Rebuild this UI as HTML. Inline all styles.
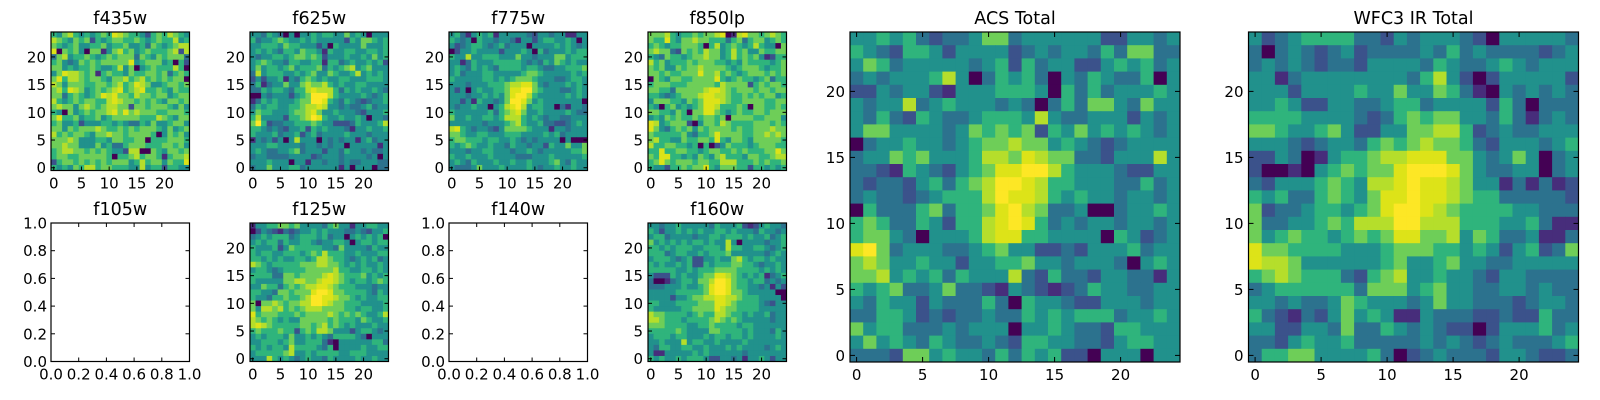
<!DOCTYPE html>
<html><head><meta charset="utf-8"><style>
html,body{margin:0;padding:0;background:#fff;}
svg{display:block;font-family:"DejaVu Sans","Liberation Sans",sans-serif;}
</style></head><body>
<svg id="fig" width="1600" height="400" viewBox="0 0 1600 400"></svg>
<script>
const f435w=["5467545456587655425657654","7654656254566556545655745","6545644556455644536545677","8065640661467564565556727","3674556545656663654656663","5643465656666684566645052","6645455654457460456555750","4687765615655465566563565","6857765665466756756565660","7646665566567568764456656","6758764565678567855654655","6635654568786657665664566","7545656655787665656546656","6766467656776626656665464","5406456566786867666556665","6855645564566666555765466","5644524445545433546445664","6646566676556565666546456","7565665466766566665046564","6667644455466556605556665","6676644464533566655566564","5677665656544277006546656","5665566666505567566515667","2566565656566645756646558","5454657756655544745525544"];
const f625w=["4435430404454554464540444","5344565445454444425466545","4455546554442405444464445","4545435546554154455445545","4344554566565244454454645","4565443554455155345445452","4645545645556354567456444","3745554454564465445745454","2424451435654544554445554","3513446446766754544554444","3354554355787775354544543","0043444245699975444454345","1354544456699854354323445","3545544556778744343345344","4655444566786445444324445","5744442556798544544540443","6952334455565442223544457","5543432445254544431445445","5444534452453444454443444","1434240474440434344145344","4445544443443434404444414","4543344563444244354434334","3443333444423444344443404","4445444044144344343344433","3446444553444444140444033"];
const f775w=["4531454514444432443441144","5434054434431442455445404","4234554345344404444545434","0244544442444540534445455","5447445554446443444664555","4413544455555434354654544","4543545435555455433445556","4534445544444566544444545","5444445545456665444334554","4443444555677886434445454","4240454455688996544433454","4443445454689975444445454","4424154434699864544444440","4344544045789745544031443","5444444535678644544445433","6445445545777545434433444","4444443444567544533223454","7854344324666654441443444","6654455444555444454534444","5665554554454343444404000","5456544544354434425446446","4443445544434454344444556","5445444544443334445444445","4543544454454454445643544","4333464445444454344544544"];
const f850lp=["6667545565667801786656765","6558546676655535635664565","5654556665057456545754406","6766326565766457564465566","5436554566766457565641255","7564555656665545465555456","6564465667666654566654556","6656556668667565456665656","0654665566668545655456355","5666555666665766662565665","6655366666788765666566566","5543456667887765565656645","4666554656888765566665566","5405645456887555650665565","6655465066886545655665666","4546565565665606666556664","8745666204665765555666565","8643565646566665655666766","6555556435568666655667676","6755446556658546654666665","7556655450502465554566655","5585566554566556565556686","6588554546546755546655677","5686566656655777555656556","5442556566854666552554545"];
const f125w=["1445566564444356441445544","0243213234454544433432445","3454555345554534404545450","4545535445543445540455455","5444524655555443644443544","5455445554565755544544455","5545454455457765543454534","7654555556667766545454454","4554345555666667554455454","5555336656666787655564545","5444446677667887654554565","4465535656778876555444344","5544366566689986655554354","5443556556799887665454455","6066765667799876655544445","6477675656777666655455445","8566655565666676565654457","7656545446666656555465445","7876555556656756545444544","5655565525657764442455434","4545554644545435555430444","4455545644555310444444553","5454554755554350444454455","4555556744545555445554444","4447545434544354444544544"];
const f160w=["4434454444435444521245443","5424454545445545444354434","4553444434455455545445345","6454545455454474044443445","5545455544555475544554345","5553455445455564444443454","4555434522445446754554544","5454454522545556655434454","5555544545556666555545454","4222545445668876545451345","3001345546679986554553434","3334445445689986554434142","4444455555689986654444400","4444244566778877655544440","5544455556668876555543244","5444445566668766555544444","7665555456557765545445344","7765554555567656544444344","6665555445565555455444444","5555565444466555545444354","4555455444545545545444454","4454447455445444454444444","4355445544544454544443454","4114444454544444434444444","5454454555422443414454244"];
const acs=["4454532334663444444224434","5432554244442343443536633","4653444443452534422454534","3434445740354530435433504","2243442144455540535344454","4344734544434303536643644","4353254334555474334442434","4664444346565625464545434","0344544345667664543234444","3446564445776876633244474","3321543245688997544432244","3233245356799875544433534","3433234555798875454434434","0533356355689763340034454","5653354255789853434434434","5664304445788554444054234","8963444334564422324445344","6764454424455644344430454","6674545354447325332443314","5456334633214321235443344","4354424333530544322444344","3355423233433545455534454","6455333434440445433255444","4645435433432554433245544","3332664544353545220444044"];
const wfc3=["4234555533243444320444443","3034323423333435343333234","3434323324444354334543444","4413444444443574202444442","4442444454464465310434343","4454224433455344442530333","5555444432356566443531343","6654456422446677523433444","4443234435656766532444345","2243014556778886643464034","2001045656689998643344034","3244456547789887644131312","5453356546889887655333332","6233455456899876555544333","6334456577799777555445311","6456554565688667465334113","8665555444566655454245236","8776444444564456443344444","5676555325674454432443333","3455555536664564433443433","4434334654443464433323443","5321324645411433322322533","4422443633543432202444534","3324544533333434323433345","3556644445302343332443223"];
const panelNames=["f435w","f625w","f775w","f850lp","f125w","f160w","ACS Total","WFC3 IR Total"];
const tickVals=[0,5,10,15,20];
const unitTicks=[0,0.2,0.4,0.6,0.8,1.0];
const unitLabels=["0.0","0.2","0.4","0.6","0.8","1.0"];
const viridis=["#440154","#472d7b","#3b528b","#2c728e","#21918c","#2fb47c","#6ece58","#b5de2b","#dde318","#fde725"];
const svg=document.getElementById('fig');
const NS="http://www.w3.org/2000/svg";
function mk(tag,attrs,parent){const e=document.createElementNS(NS,tag);for(const k in attrs)e.setAttribute(k,attrs[k]);(parent||svg).appendChild(e);return e;}
function txt(x,y,s,size,anchor,parent){const t=mk('text',{x:x,y:y,'font-size':size,'text-anchor':anchor,fill:'#000'},parent);t.textContent=s;return t;}
function slug(s){return s.toLowerCase().replace(/[^a-z0-9]+/g,'-');}
const TF=15, TT=17.5;
function imagePanel(name,grid,L,T,S,tick){
  const g=mk('g',{});
  
  
  const n=grid.length, cs=S/n;
  const xs=v=>L+(v+0.5)*cs, ys=v=>T+S-(v+0.5)*cs;
  for(let r=0;r<n;r++){const row=grid[r];const yv=n-1-r;
    for(let c=0;c<row.length;c++){
      const cell=mk('rect',{x:xs(c)-cs/2,y:ys(yv)-cs/2,width:cs+0.4,height:cs+0.4,fill:viridis[+row[c]]},g);
      
      
    }}
  const fr=mk('rect',{x:L,y:T,width:S,height:S,fill:'none',stroke:'#000','stroke-width':1.2},g);
  
  
  tickVals.forEach(v=>{
    const x=xs(v),y=ys(v);
    mk('line',{x1:x,y1:T+S,x2:x,y2:T+S-tick,stroke:'#000'},g);
    mk('line',{x1:x,y1:T,x2:x,y2:T+tick,stroke:'#000'},g);
    mk('line',{x1:L,y1:y,x2:L+tick,y2:y,stroke:'#000'},g);
    mk('line',{x1:L+S,y1:y,x2:L+S-tick,y2:y,stroke:'#000'},g);
    const xl=txt(x,T+S+18,String(v),TF,'middle',g);
    
    
    const yl=txt(L-5,y+5.5,String(v),TF,'end',g);
    
    
  });
  const t=txt(L+S/2,T-8,name,TT,'middle',g);
  
  
}
function emptyPanel(name,L,T,S){
  const g=mk('g',{});
  
  
  mk('rect',{x:L,y:T,width:S,height:S,fill:'#fff',stroke:'#000','stroke-width':1.2},g);
  unitTicks.forEach((v,i)=>{
    const x=L+v*S,y=T+S-v*S;
    mk('line',{x1:x,y1:T+S,x2:x,y2:T+S-4,stroke:'#000'},g);
    mk('line',{x1:x,y1:T,x2:x,y2:T+4,stroke:'#000'},g);
    mk('line',{x1:L,y1:y,x2:L+4,y2:y,stroke:'#000'},g);
    mk('line',{x1:L+S,y1:y,x2:L+S-4,y2:y,stroke:'#000'},g);
    const xl=txt(x,T+S+18,unitLabels[i],TF,'middle',g);
    
    
    const yl=txt(L-4,y+5.5,unitLabels[i],TF,'end',g);
    
    
  });
  const t=txt(L+S/2,T-8,name,TT,'middle',g);
  
  
}
const S=138.5;
imagePanel(panelNames[0],f435w,51,32,S,4);
imagePanel(panelNames[1],f625w,250,32,S,4);
imagePanel(panelNames[2],f775w,449,32,S,4);
imagePanel(panelNames[3],f850lp,648,32,S,4);
emptyPanel("f105w",51,223,S);
imagePanel(panelNames[4],f125w,250,223,S,4);
emptyPanel("f140w",449,223,S);
imagePanel(panelNames[5],f160w,648,223,S,4);
imagePanel(panelNames[6],acs,850,32,330,5);
imagePanel(panelNames[7],wfc3,1248.5,32,330,5);
</script>
</body></html>
